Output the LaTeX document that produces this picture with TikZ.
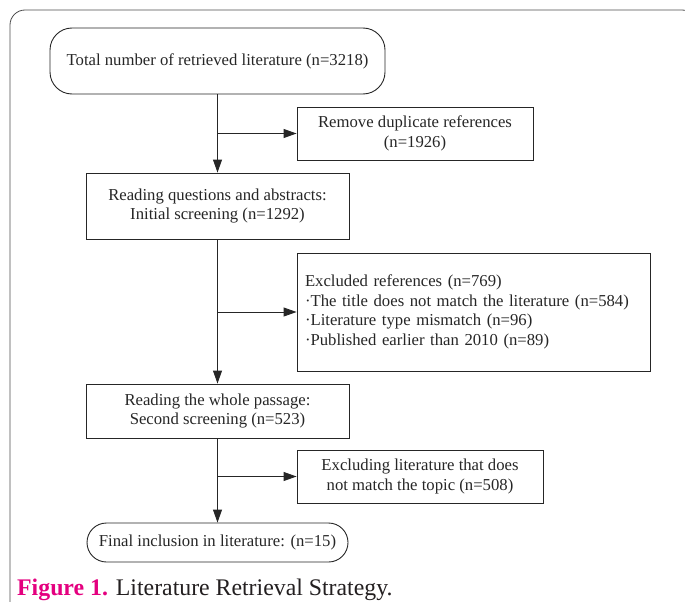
\documentclass[tikz,border=0pt]{standalone}
\usepackage{fontspec}
\setmainfont{Liberation Serif}
\usetikzlibrary{arrows.meta,positioning}
\definecolor{figpink}{RGB}{228,0,127}
\definecolor{capgray}{RGB}{35,31,32}

\begin{document}
\begin{tikzpicture}[x=1pt,y=-1pt]
    % --- styles ---
    \tikzset{
      flowline/.style={line width=0.9pt,black!85},
      flowarrow/.style={flowline,-{Triangle[length=13pt,width=9pt]}},
      stepbox/.style={draw,flowline,rectangle,inner sep=0pt,align=center,
        font=\fontsize{16.7}{19.5}\selectfont},
      endbox/.style={stepbox,rounded corners=#1},
      sidebox/.style={stepbox,align=left,text width=337pt,inner xsep=8pt}
    }

    % page size and outer frame
    \useasboundingbox (0,0) rectangle (685,602);
    \begin{scope}
      \clip (0,0) rectangle (685,602);
      \draw[line width=0.8pt,black!70,rounded corners=15]
        (10,630) -- (10,10) -- (697,10) -- (697,630);
    \end{scope}

    % main column
    \node[endbox=22,minimum width=335pt,minimum height=66pt] (total) at (217.5,61)
      {Total number of retrieved literature (n=3218)};
    \node[stepbox,minimum width=263pt,minimum height=66pt] (scr1) at (217.5,206)
      {Reading questions and abstracts:\\Initial screening (n=1292)};
    \node[stepbox,minimum width=263pt,minimum height=54pt] (scr2) at (217.5,411)
      {Reading the whole passage:\\Second screening (n=523)};
    \node[endbox=19.5,minimum width=261pt,minimum height=39pt] (final) at (217.5,542.5)
      {Final inclusion in literature: (n=15)};

    % side boxes (exclusions)
    \node[stepbox,minimum width=236pt,minimum height=53pt] (dup) at (415,133.5)
      {Remove duplicate references\\(n=1926)};
    \node[sidebox,minimum height=118pt] (excl) at (473.5,312)
      {Excluded references (n=769)\\
       ·The title does not match the literature (n=584)\\
       ·Literature type mismatch (n=96)\\
       ·Published earlier than 2010 (n=89)};
    \node[stepbox,minimum width=246pt,minimum height=53pt] (topic) at (420,476.5)
      {Excluding literature that does\\not match the topic (n=508)};

    % connectors
    \draw[flowarrow] (total) -- (scr1);
    \draw[flowarrow] (scr1) -- (scr2);
    \draw[flowarrow] (scr2) -- (final);
    \draw[flowarrow] (total.south |- dup.west) -- (dup.west);
    \draw[flowarrow] (scr1.south |- excl.west) -- (excl.west);
    \draw[flowarrow] (scr2.south |- topic.west) -- (topic.west);

    % caption
    \node[anchor=base west,inner sep=0pt,font=\fontsize{23.8}{28}\selectfont]
      (cap) at (17,595)
      {\textcolor{figpink}{\bfseries Figure 1.} \textcolor{capgray}{Literature Retrieval Strategy.}};
\end{tikzpicture}
\end{document}
